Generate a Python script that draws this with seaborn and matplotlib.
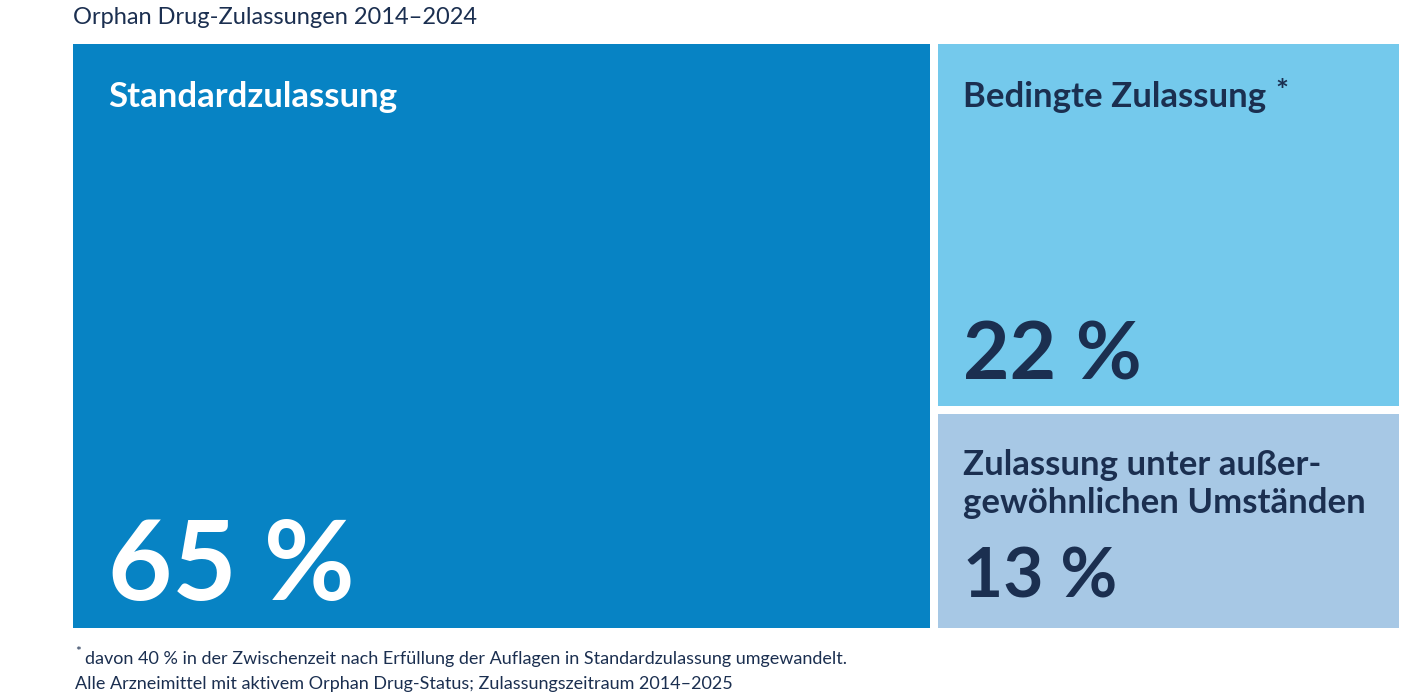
import matplotlib
matplotlib.use("Agg")
import matplotlib.pyplot as plt
import seaborn as sns
from matplotlib.patches import Rectangle

sns.set_theme(style="white")
plt.rcParams['font.family'] = ['Lato', 'DejaVu Sans']

labels = ["Standardzulassung", "Bedingte Zulassung", "Zulassung unter außer-\ngewöhnlichen Umständen"]
values = [65, 22, 13]
colors = ["#0783C4", "#74C9EC", "#A7C8E5"]
textcol = ["white", "#1B2F50", "#1B2F50"]
title = "Orphan Drug-Zulassungen 2014\u20132024"
foot1 = "davon 40 % in der Zwischenzeit nach Erfüllung der Auflagen in Standardzulassung umgewandelt."
foot2 = "Alle Arzneimittel mit aktivem Orphan Drug-Status; Zulassungszeitraum 2014\u20132025"

W, H = 1401, 700
fig = plt.figure(figsize=(14.01, 7), dpi=100)
ax = fig.add_axes([0, 0, 1, 1])
ax.set_xlim(0, W); ax.set_ylim(H, 0); ax.axis("off")

x0, x1, y0, y1, gap = 73, 1399, 44, 628, 8
tot = sum(values)
xl = x0 + (x1 - x0 - gap) * values[0] / tot
ax.add_patch(Rectangle((x0, y0), xl - x0, y1 - y0, color=colors[0], lw=0))
xr = xl + gap
rtot = values[1] + values[2]
ym = y0 + (y1 - y0 - gap) * values[1] / rtot
ax.add_patch(Rectangle((xr, y0), x1 - xr, ym - y0, color=colors[1], lw=0))
ax.add_patch(Rectangle((xr, ym + gap), x1 - xr, y1 - ym - gap, color=colors[2], lw=0))

ax.text(x0 + 35, 97, labels[0], color=textcol[0], fontsize=25, fontweight="bold", va="center")
ax.text(x0 + 35, 600, f"{values[0]} %", color=textcol[0], fontsize=80, fontweight="bold", va="baseline")
ax.text(xr + 25, 97, labels[1], color=textcol[1], fontsize=25, fontweight="bold", va="center")
ax.text(xr + 25 + 313, 92, "*", color=textcol[1], fontsize=22, fontweight="bold", va="center")
ax.text(xr + 25, 380, f"{values[1]} %", color=textcol[1], fontsize=58, fontweight="bold", va="baseline")
ax.text(xr + 25, 484, labels[2], color=textcol[2], fontsize=25, fontweight="bold", va="center", linespacing=1.25)
ax.text(xr + 25, 597, f"{values[2]} %", color=textcol[2], fontsize=50, fontweight="bold", va="baseline")

ax.text(x0, 18, title, color="#1B2F50", fontsize=17, va="center")
ax.text(x0 + 2, 652, "*", color="#1B2F50", fontsize=10, va="center")
ax.text(x0 + 12, 659, foot1, color="#1B2F50", fontsize=13, va="center")
ax.text(x0 + 2, 684, foot2, color="#1B2F50", fontsize=13, va="center")

fig.savefig("out.png", dpi=100, facecolor="white")
